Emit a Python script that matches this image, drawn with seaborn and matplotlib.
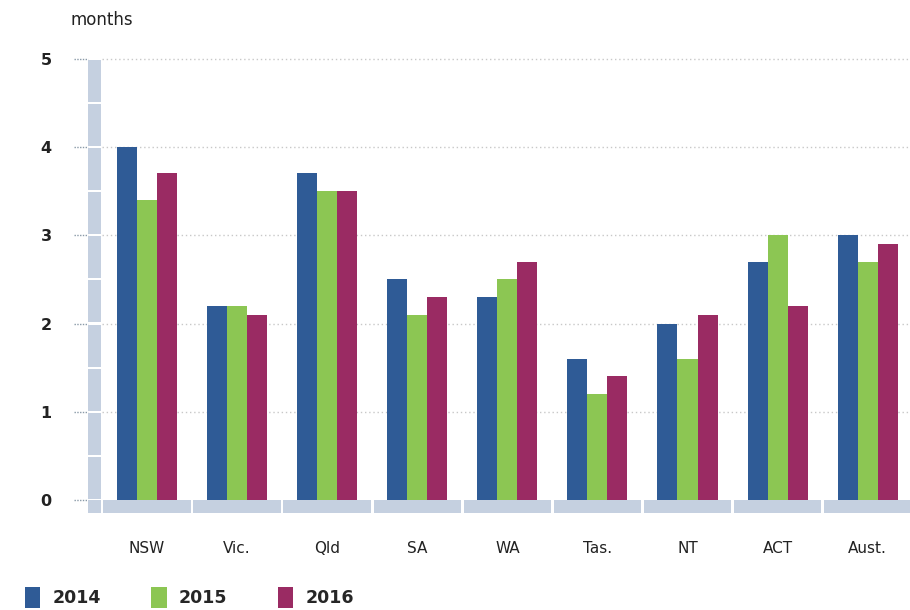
import numpy as np
import pandas as pd
import matplotlib
matplotlib.use('Agg')
import matplotlib.pyplot as plt
import seaborn as sns
from matplotlib.patches import Rectangle, Patch

# data
states = ['NSW', 'Vic.', 'Qld', 'SA', 'WA', 'Tas.', 'NT', 'ACT', 'Aust.']
years = ['2014', '2015', '2016']
v2014 = [4.0, 2.2, 3.7, 2.5, 2.3, 1.6, 2.0, 2.7, 3.0]
v2015 = [3.4, 2.2, 3.5, 2.1, 2.5, 1.2, 1.6, 3.0, 2.7]
v2016 = [3.7, 2.1, 3.5, 2.3, 2.7, 1.4, 2.1, 2.2, 2.9]
yticks = [0, 1, 2, 3, 4, 5]

df = pd.DataFrame({'state': states * 3,
                   'year': ['2014'] * 9 + ['2015'] * 9 + ['2016'] * 9,
                   'months': v2014 + v2015 + v2016})

colors = {'2014': '#2f5b96', '2015': '#8cc653', '2016': '#9a2b63'}
strip = '#c5d0e0'

sns.set_style('white')
plt.rcParams['font.family'] = ['DejaVu Sans']

fig = plt.figure(figsize=(9.1, 6.1), dpi=100)
ax = fig.add_axes([74 / 910, 1 - 515 / 610, 1 - 74 / 910, (515 - 57) / 610])

sns.barplot(data=df, x='state', y='months', hue='year', order=states,
            hue_order=years, palette=colors, width=0.667, gap=0,
            saturation=1, ax=ax, legend=False, linewidth=0)

ax.set_xlim(-0.81, 8.47)
ax.set_ylim(-0.17, 5.02)

# dotted gridlines and small tick dashes
for y in yticks[1:]:
    ax.hlines(y, -0.5, 8.47, colors='#c8c8c8', linestyles=(0, (1, 2)),
              linewidth=1, zorder=0)
for y in yticks:
    ax.hlines(y, -0.81, -0.66, colors='#8a9aa8', linestyles=(0, (1, 1)),
              linewidth=1, zorder=0)

# decorative axis strips
for k in range(10):
    ax.add_patch(Rectangle((-0.655, k * 0.5 + 0.012), 0.145, 0.476,
                           facecolor=strip, edgecolor='none', zorder=1))
ax.add_patch(Rectangle((-0.655, -0.15), 0.145, 0.145,
                       facecolor=strip, edgecolor='none', zorder=1))
for i in range(len(states)):
    ax.add_patch(Rectangle((i - 0.485, -0.15), 0.97, 0.145,
                           facecolor=strip, edgecolor='none', zorder=1))

for s in ax.spines.values():
    s.set_visible(False)

ax.set_yticks(yticks)
ax.set_yticklabels([str(t) for t in yticks], fontsize=11.5, fontweight='semibold',
                   color='#222222')
ax.tick_params(axis='y', length=0, pad=16)
ax.tick_params(axis='x', length=0, pad=19, labelsize=11, labelcolor='#222222')
ax.set_xlabel('')
ax.set_ylabel('')

fig.text(70 / 910, 1 - 20 / 610, 'months', fontsize=12, color='#222222',
         va='center', ha='left')

handles = [Patch(facecolor=colors[y], edgecolor='none') for y in years]
fig.legend(handles, years, loc='lower left', bbox_to_anchor=(0.01, -0.022),
           ncol=3, frameon=False, handlelength=0.9, handleheight=1.5,
           handletextpad=0.7, columnspacing=2.9,
           prop={'size': 12.5, 'weight': 'bold'})

fig.savefig('out.png', dpi=100)
